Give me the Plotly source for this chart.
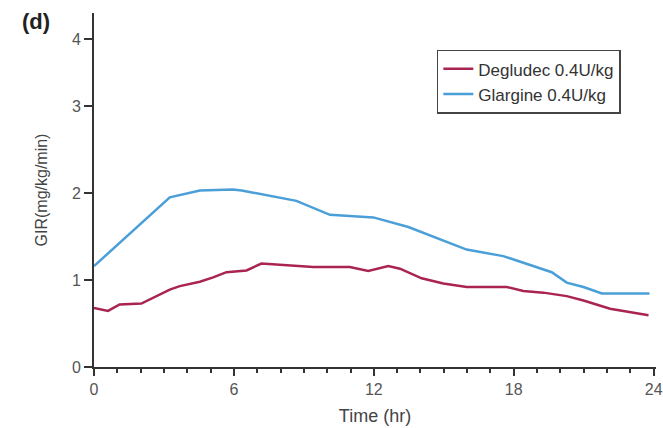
import plotly.graph_objects as go

# Data
deg_time = [0, 0.6, 1.1, 2.03, 3.25, 3.68, 4.54, 5.11, 5.68, 6.54, 7.18, 8.83, 9.4, 10.12,
            10.97, 11.76, 12.62, 13.12, 14.05, 14.98, 15.98, 17.7, 18.41, 19.27, 20.27,
            20.99, 22.13, 23.78]
deg_gir = [0.68, 0.645, 0.72, 0.73, 0.89, 0.93, 0.98, 1.03, 1.09, 1.11, 1.19, 1.16, 1.15, 1.15,
           1.15, 1.105, 1.16, 1.13, 1.02, 0.96, 0.92, 0.92, 0.875, 0.855, 0.815,
           0.765, 0.67, 0.595]
gla_time = [0, 3.25, 4.54, 5.95, 6.33, 7.25, 8.68, 10.12, 11.98, 13.48, 14.41, 15.98,
            17.55, 18.55, 19.63, 20.27, 20.99, 21.78, 23.82]
gla_gir = [1.16, 1.95, 2.03, 2.04, 2.03, 1.98, 1.91, 1.75, 1.72, 1.61, 1.515, 1.35,
           1.275, 1.19, 1.09, 0.97, 0.92, 0.845, 0.845]

x_tickvals = [0, 6, 12, 18, 24]
x_ticktext = ["0", "6", "12", "18", "24"]
y_tickvals = [0, 1, 2, 3, 3.77]
y_ticktext = ["0", "1", "2", "3", "4"]

series_names = ["Degludec 0.4U/kg", "Glargine 0.4U/kg"]

FONT = "Liberation Sans, Arial"

fig = go.Figure()
fig.add_trace(go.Scatter(x=deg_time, y=deg_gir, mode="lines", name=series_names[0],
                         line=dict(color="#aa2452", width=2.5)))
fig.add_trace(go.Scatter(x=gla_time, y=gla_gir, mode="lines", name=series_names[1],
                         line=dict(color="#4b9fd8", width=2.5)))

fig.update_layout(
    width=663, height=428,
    margin=dict(l=94, r=7, t=13, b=61),
    plot_bgcolor="white", paper_bgcolor="white",
    font=dict(family=FONT, size=16, color="#444"),
    title=dict(text="<b>(d)</b>", x=22 / 663, xanchor="left", xref="container",
               y=1 - 21 / 428, yanchor="middle", yref="container",
               font=dict(family=FONT, size=22, color="#222")),
    showlegend=True,
    legend=dict(x=0.61, y=0.896, xanchor="left", yanchor="top",
                bordercolor="#444", borderwidth=1.5, bgcolor="white",
                font=dict(family=FONT, size=17, color="#333"),
                tracegroupgap=0, itemwidth=30),
    xaxis=dict(range=[0, 24.1], tickvals=x_tickvals, ticktext=x_ticktext, automargin=False,
               showgrid=False, zeroline=False, showline=True, linecolor="#333", linewidth=2,
               ticks="outside", ticklen=7, tickwidth=2, tickcolor="#333",
               minor=dict(dtick=1, ticks="outside", ticklen=4, tickwidth=2, tickcolor="#333",
                          showgrid=False),
               tickfont=dict(size=16, color="#555"),
               title=dict(text="Time (hr)", font=dict(size=18, color="#444"), standoff=12)),
    yaxis=dict(range=[0, 4.07], tickvals=y_tickvals, ticktext=y_ticktext, automargin=False,
               showgrid=False, zeroline=False, showline=True, linecolor="#333", linewidth=2,
               ticks="outside", ticklen=8, tickwidth=2, tickcolor="#333",
               tickfont=dict(size=16, color="#555"),
               title=dict(text="GIR(mg/kg/min)", font=dict(size=16, color="#444"), standoff=20)),
)

fig.write_html("out.html", config={"displayModeBar": False},
               post_script="document.body.style.margin='0';document.body.style.padding='0';")
